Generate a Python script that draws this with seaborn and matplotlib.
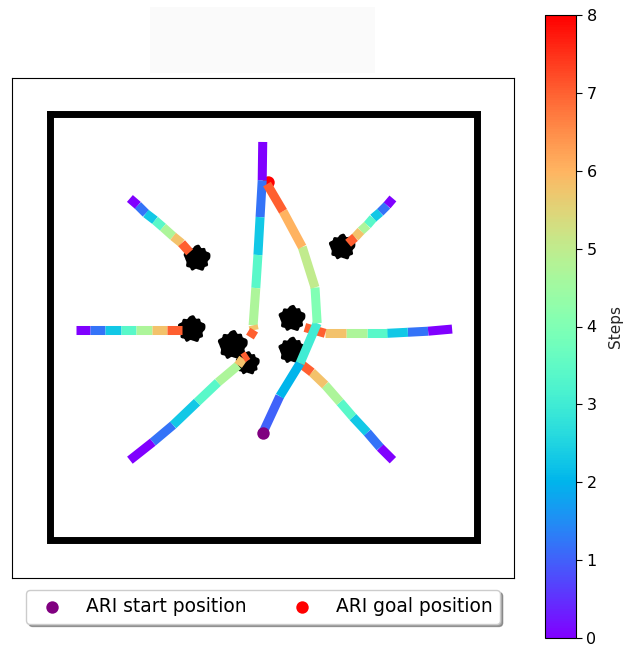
import numpy as np
import matplotlib
matplotlib.use('Agg')
import matplotlib.pyplot as plt
from matplotlib.collections import LineCollection
from matplotlib.colors import Normalize
from matplotlib.cm import ScalarMappable
from matplotlib.path import Path
from matplotlib.patches import Rectangle
import seaborn as sns

# Human trajectories (m), one point per step
h1_x = [-2.50, -2.35, -2.20, -2.03, -1.88, -1.69, -1.53, -1.38]
h1_y = [2.41, 2.28, 2.13, 2.00, 1.87, 1.70, 1.57, 1.40]
h2_x = [-3.51, -3.25, -2.97, -2.67, -2.39, -2.09, -1.81, -1.53]
h2_y = [-0.06, -0.06, -0.06, -0.06, -0.06, -0.06, -0.06, -0.06]
h3_x = [2.43, 2.32, 2.19, 2.06, 1.95, 1.83, 1.72, 1.59]
h3_y = [2.41, 2.28, 2.15, 2.04, 1.91, 1.80, 1.68, 1.57]
h4_x = [3.54, 3.09, 2.71, 2.32, 1.95, 1.55, 1.16, 0.78]
h4_y = [-0.04, -0.08, -0.10, -0.12, -0.12, -0.12, -0.12, -0.01]
h5_x = [2.43, 2.19, 1.95, 1.68, 1.44, 1.16, 0.91, 0.69]
h5_y = [-2.50, -2.26, -1.98, -1.69, -1.41, -1.09, -0.85, -0.68]
h6_x = [-2.50, -2.07, -1.69, -1.24, -0.85, -0.47, -0.38, -0.29]
h6_y = [-2.50, -2.16, -1.84, -1.41, -1.04, -0.72, -0.59, -0.53]
h7_x = [-0.01, -0.02, -0.06, -0.10, -0.14, -0.19, -0.17, -0.25]
h7_y = [3.47, 2.75, 2.06, 1.35, 0.73, 0.03, -0.06, -0.19]
human_steps = [0, 1.2, 2.3, 3.4, 4.7, 5.8, 7.0]

# ARI robot trajectory
robot_x = [-0.01, 0.31, 0.69, 1.01, 0.97, 0.73, 0.37, 0.07]
robot_y = [-1.99, -1.30, -0.68, 0.07, 0.74, 1.50, 2.17, 2.68]
robot_steps = [1, 2, 3, 4, 5, 6, 7]
start_x, start_y = [-0.01], [-1.99]
goal_x, goal_y = [0.09], [2.72]

# final human positions
blob_x = [-1.24, -1.34, 1.48, 0.54, 0.54, -0.57, -0.29]
blob_y = [1.29, -0.04, 1.50, 0.16, -0.44, -0.34, -0.68]
blob_size = [380, 400, 370, 380, 390, 470, 300]

# room walls
wall_x = [-4, 4, 4, -4, -4]
wall_y = [4, 4, -4, -4, 4]

sns.set_style('white', {'axes.edgecolor': 'black', 'text.color': 'black',
                        'xtick.color': 'black', 'ytick.color': 'black'})
plt.rcParams['font.family'] = ['DejaVu Sans']

fig = plt.figure(figsize=(6.27, 6.47), dpi=100)
ax = fig.add_axes([12 / 627, 69 / 647, 502 / 627, 500 / 647])
cax = fig.add_axes([545 / 627, 9 / 647, 31 / 627, 623 / 647])

# faint (blank) title box
fig.patches.append(Rectangle((150 / 627, 1 - 73 / 647), 225 / 627, 66 / 647,
                             transform=fig.transFigure, facecolor='#fafafa',
                             edgecolor='none'))

norm = Normalize(vmin=0, vmax=8)
cmap = plt.get_cmap('rainbow')

ax.plot(wall_x, wall_y, color='black', lw=5, solid_joinstyle='miter',
        solid_capstyle='projecting', zorder=1)

# irregular blob marker for people
theta = np.linspace(0, 2 * np.pi, 60, endpoint=False)
r = (1 + 0.07 * np.sin(5 * theta + 0.3) + 0.06 * np.sin(9 * theta)
     + 0.04 * np.cos(13 * theta + 1.1) + 0.06 * np.cos(2 * theta))
verts = np.column_stack([0.92 * r * np.cos(theta), r * np.sin(theta)])
verts = np.vstack([verts, verts[:1]])
blob = Path(verts, closed=True)
ax.scatter(blob_x, blob_y, s=blob_size, marker=blob, color='black',
           linewidths=0, zorder=2)

sns.scatterplot(x=goal_x, y=goal_y, color='red', s=80, linewidth=0,
                label='ARI goal position', ax=ax, zorder=3)

humans = [(h1_x, h1_y), (h2_x, h2_y), (h3_x, h3_y), (h4_x, h4_y),
          (h5_x, h5_y), (h6_x, h6_y), (h7_x, h7_y)]


def add_track(xs, ys, steps):
    pts = np.column_stack([xs, ys])
    segs = np.stack([pts[:-1], pts[1:]], axis=1)
    lc = LineCollection(segs, cmap=cmap, norm=norm, linewidths=6.5,
                        capstyle='butt', zorder=4)
    lc.set_array(np.asarray(steps, dtype=float))
    ax.add_collection(lc)


for hx, hy in humans:
    add_track(hx, hy, human_steps)
add_track(robot_x, robot_y, robot_steps)

sns.scatterplot(x=start_x, y=start_y, color='purple', s=80, linewidth=0,
                label='ARI start position', ax=ax, zorder=5)

ax.set_xlim(-4.71, 4.70)
ax.set_ylim(-4.71, 4.67)
ax.set_xticks([])
ax.set_yticks([])
for sp in ax.spines.values():
    sp.set_linewidth(0.8)
    sp.set_color('black')

handles, labels = ax.get_legend_handles_labels()
order = [labels.index('ARI start position'), labels.index('ARI goal position')]
ax.legend([handles[i] for i in order], [labels[i] for i in order],
          loc='upper center', bbox_to_anchor=(0.5, -0.005), ncol=2,
          shadow=True, fancybox=True, fontsize=13.4, frameon=True)

cb = fig.colorbar(ScalarMappable(norm=norm, cmap=cmap), cax=cax)
cb.set_label('Steps', fontsize=11, labelpad=8)
cb.set_ticks(range(0, 9))
cb.ax.tick_params(labelsize=11.5, length=4)
cb.outline.set_linewidth(0.8)

fig.savefig('out.png', dpi=100)
